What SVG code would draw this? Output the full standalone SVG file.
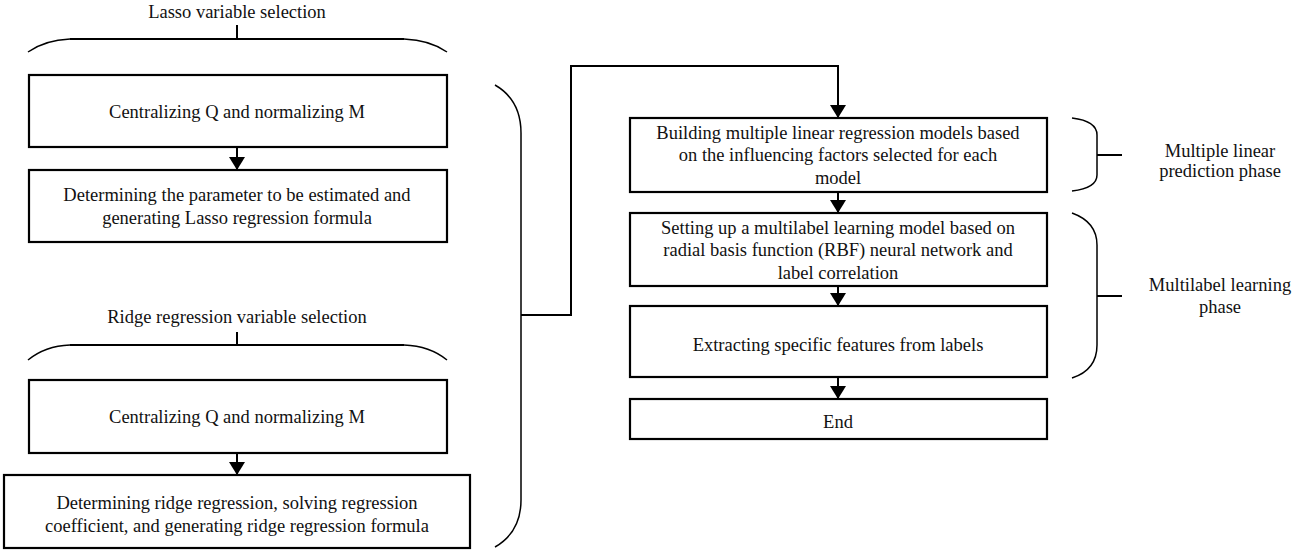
<svg xmlns="http://www.w3.org/2000/svg" width="1302" height="552" viewBox="0 0 1302 552">
  <style>
    .box { fill: #fff; stroke: #000; stroke-width: 2.2; }
    .line { fill: none; stroke: #000; stroke-width: 2; }
    .brace { fill: none; stroke: #000; stroke-width: 1.5; }
    text { font-family: "Liberation Serif", "Times New Roman", serif; font-size: 18.5px; fill: #111; text-anchor: middle; }
  </style>
  <defs>
    <marker id="arrow" viewBox="0 0 13 16" refX="13" refY="8" markerWidth="13" markerHeight="16" markerUnits="userSpaceOnUse" orient="auto">
      <path d="M0,0 L13,8 L0,16 Z" fill="#000"/>
    </marker>
  </defs>
  <rect width="1302" height="552" fill="#fff"/>

  <!-- group braces and their labels -->
  <g id="lasso-label">
    <text x="237" y="18">Lasso variable selection</text>
    <path class="brace" d="M28,52 Q45,40 70,39 M404,39 Q430,40 447,52"/>
    <path class="line" d="M70,39 H404 M237,25 V39"/>
  </g>
  <g id="ridge-label">
    <text x="237" y="323">Ridge regression variable selection</text>
    <path class="brace" d="M28,360 Q45,346 70,345 M404,345 Q430,346 447,360"/>
    <path class="line" d="M70,345 H404 M237,332 V345"/>
  </g>
  <g id="left-bracket">
    <path class="brace" d="M495,85 Q521,100 521,133 V500 Q521,532 495,547"/>
  </g>
  <g id="phase-linear">
    <path class="brace" d="M1072,118 Q1097,121 1097,135 V175 Q1097,188 1072,191"/>
    <path class="line" d="M1097,155 H1122"/>
    <text x="1220" y="157">Multiple linear</text>
    <text x="1220" y="177">prediction phase</text>
  </g>
  <g id="phase-multilabel">
    <path class="brace" d="M1072,213 Q1097,222 1097,245 V345 Q1097,370 1072,378"/>
    <path class="line" d="M1097,296 H1122"/>
    <text x="1220" y="291">Multilabel learning</text>
    <text x="1220" y="313">phase</text>
  </g>

  <!-- process boxes -->
  <g id="lasso-centralize">
    <rect class="box" x="29" y="75" width="418" height="72"/>
    <text x="237" y="118">Centralizing Q and normalizing M</text>
  </g>
  <g id="lasso-formula">
    <rect class="box" x="29" y="170" width="418" height="72"/>
    <text x="237" y="201">Determining the parameter to be estimated and</text>
    <text x="237" y="224">generating Lasso regression formula</text>
  </g>
  <g id="ridge-centralize">
    <rect class="box" x="29" y="380" width="418" height="73"/>
    <text x="237" y="423">Centralizing Q and normalizing M</text>
  </g>
  <g id="ridge-formula">
    <rect class="box" x="4" y="475" width="466" height="73"/>
    <text x="237" y="509">Determining ridge regression, solving regression</text>
    <text x="237" y="532">coefficient, and generating ridge regression formula</text>
  </g>
  <g id="mlr-models">
    <rect class="box" x="630" y="118" width="417" height="74"/>
    <text x="838" y="139">Building multiple linear regression models based</text>
    <text x="838" y="161">on the influencing factors selected for each</text>
    <text x="838" y="184">model</text>
  </g>
  <g id="rbf-model">
    <rect class="box" x="630" y="213" width="417" height="73"/>
    <text x="838" y="234">Setting up a multilabel learning model based on</text>
    <text x="838" y="256">radial basis function (RBF) neural network and</text>
    <text x="838" y="279">label correlation</text>
  </g>
  <g id="extract-features">
    <rect class="box" x="630" y="306" width="417" height="71"/>
    <text x="838" y="351">Extracting specific features from labels</text>
  </g>
  <g id="end">
    <rect class="box" x="630" y="399" width="417" height="40"/>
    <text x="838" y="428">End</text>
  </g>

  <!-- connectors -->
  <g id="connectors">
    <path class="line" d="M237,147 V170" marker-end="url(#arrow)"/>
    <path class="line" d="M237,453 V475" marker-end="url(#arrow)"/>
    <path class="line" d="M521,315 H571 V66 H838 V118" marker-end="url(#arrow)"/>
    <path class="line" d="M838,192 V213" marker-end="url(#arrow)"/>
    <path class="line" d="M838,286 V306" marker-end="url(#arrow)"/>
    <path class="line" d="M838,377 V399" marker-end="url(#arrow)"/>
  </g>
</svg>
